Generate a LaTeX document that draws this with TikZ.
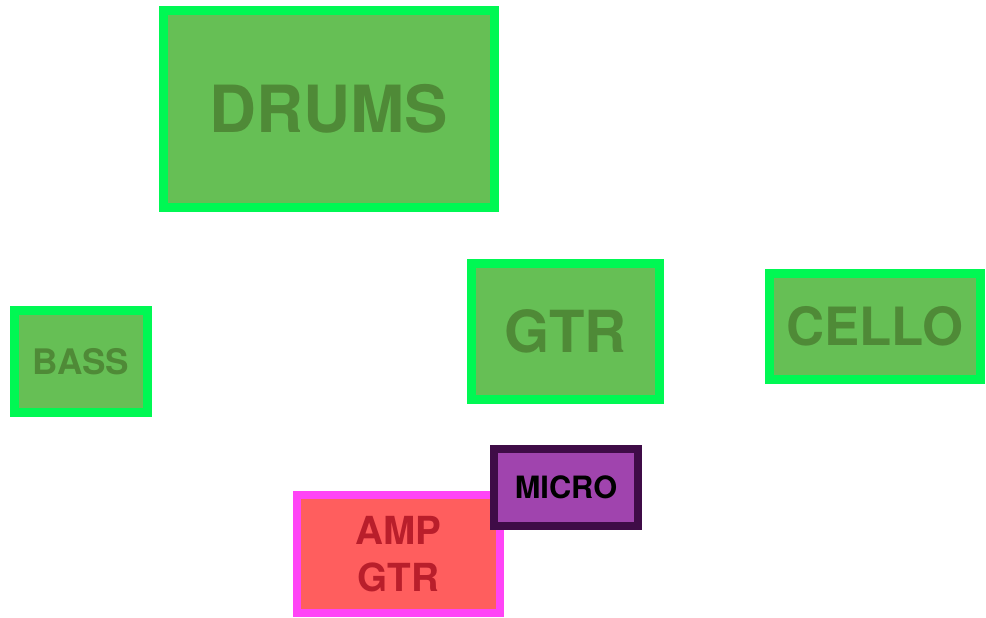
\documentclass[tikz,border=0pt]{standalone}
\usepackage{fontspec}
\setmainfont{TeX Gyre Heros}
\definecolor{instfill}{HTML}{66BF55}
\definecolor{instline}{HTML}{00F853}
\definecolor{insttext}{HTML}{4F8A37}
\definecolor{ampfill}{HTML}{FF5E5E}
\definecolor{ampline}{HTML}{FF44F6}
\definecolor{amptext}{HTML}{B91E2B}
\definecolor{microfill}{HTML}{A044AE}
\definecolor{microline}{HTML}{3F0C47}

\begin{document}
\begin{tikzpicture}[
        inst/.style={rectangle,fill=instfill,draw=instline,line width=0.18cm,text=insttext,align=center},
        amp/.style={rectangle,fill=ampfill,draw=ampline,line width=0.16cm,text=amptext,align=center},
        micro/.style={rectangle,fill=microfill,draw=microline,line width=0.16cm,text=black,align=center}
        ]
        \useasboundingbox (0,0) rectangle (19.72,12.34);
        \node (drums) [inst,minimum width=6.62cm,minimum height=3.94cm,
            font=\bfseries\fontsize{37}{40}\selectfont] at (6.58,10.16) {DRUMS};
        \node (bass) [inst,minimum width=2.66cm,minimum height=2.04cm,
            font=\bfseries\fontsize{20}{22}\selectfont] at (1.62,5.11) {BASS};
        \node (gtr) [inst,minimum width=3.76cm,minimum height=2.72cm,
            font=\bfseries\fontsize{33}{36}\selectfont] at (11.31,5.71) {GTR};
        \node (cello) [inst,minimum width=4.22cm,minimum height=2.12cm,
            font=\bfseries\fontsize{30}{32}\selectfont] at (17.5,5.81) {CELLO};
        \node (amp) [amp,minimum width=4.06cm,minimum height=2.36cm,
            font=\bfseries\fontsize{22}{27}\selectfont] at (7.97,1.26) {AMP\\GTR};
        \node (micro) [micro,minimum width=2.88cm,minimum height=1.54cm,
            font=\bfseries\fontsize{17.5}{20}\selectfont] at (11.32,2.59) {MICRO};
\end{tikzpicture}
\end{document}
